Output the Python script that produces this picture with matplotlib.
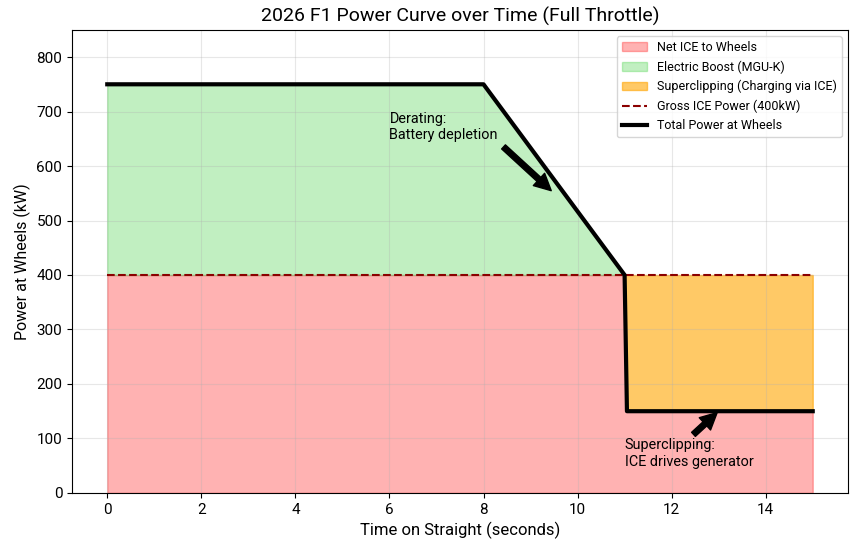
import numpy as np
import matplotlib
matplotlib.use('Agg')
import matplotlib.pyplot as plt

plt.rcParams.update({
    'font.family': ['Roboto', 'DejaVu Sans'],
    'font.size': 11,
})

# time breakpoints (s) and power levels (kW)
time = [0, 8, 11, 11.05, 15]
total_power = [750, 750, 400, 150, 150]
ice_net = [400, 400, 400, 150, 150]
ice_gross = [400, 400, 400, 400, 400]

t = np.array(time)
total = np.array(total_power)
net = np.array(ice_net)
gross = np.array(ice_gross)

fig = plt.figure(figsize=(8.57, 5.52), dpi=100)
ax = fig.add_axes([0.084, 0.107, 0.9055, 0.839])

ax.fill_between(t, 0, net, color='red', alpha=0.3, label='Net ICE to Wheels')
ax.fill_between(t, gross, total, where=total >= gross, color='limegreen', alpha=0.3,
                label='Electric Boost (MGU-K)')
ax.fill_between(t, net, gross, where=t >= 11, color='orange', alpha=0.6,
                label='Superclipping (Charging via ICE)')
ax.plot(t, gross, '--', color='darkred', lw=1.5, label='Gross ICE Power (400kW)')
ax.plot(t, total, color='black', lw=3, label='Total Power at Wheels')

ax.annotate('Derating:\nBattery depletion', xy=(9.5, 550), xytext=(6, 650),
            arrowprops=dict(facecolor='black', shrink=0.05), fontsize=10.4)
ax.annotate('Superclipping:\nICE drives generator', xy=(13, 150), xytext=(11, 50),
            arrowprops=dict(facecolor='black', shrink=0.05), fontsize=10.4)

ax.set_xlim(-0.75, 15.75)
ax.set_ylim(0, 850)
ax.set_title('2026 F1 Power Curve over Time (Full Throttle)', fontsize=14)
ax.set_xlabel('Time on Straight (seconds)', fontsize=12)
ax.set_ylabel('Power at Wheels (kW)', fontsize=11.5)
ax.grid(True, alpha=0.3)
ax.legend(loc='upper right', fontsize=9)

fig.savefig('out.png', dpi=100)
